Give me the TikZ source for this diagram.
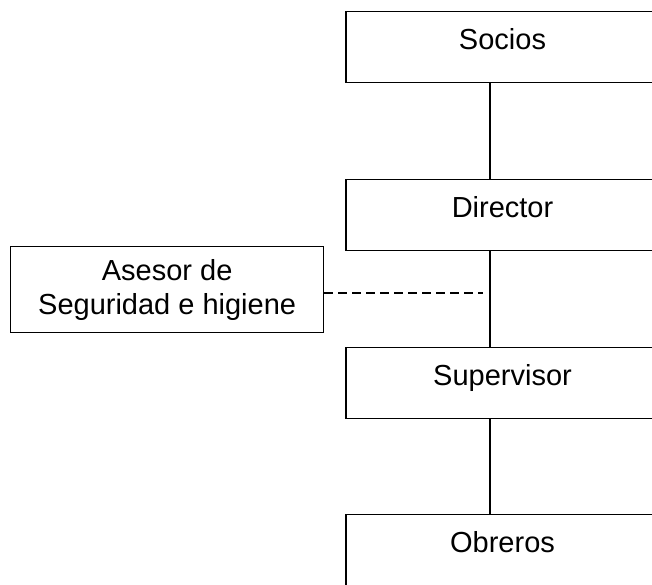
\documentclass[tikz,border=0pt]{standalone}
\usepackage{fontspec}
\setmainfont{Liberation Sans}
\usepackage{tikz}

\begin{document}
\begin{tikzpicture}[x=1pt,y=-1pt,
  cargo/.style={draw,line width=1.3pt,inner sep=0pt,minimum width=313pt,
    text height=38pt,text depth=33pt,font=\fontsize{29}{34}\selectfont},
  asesor/.style={draw,line width=1.3pt,inner sep=0pt,minimum width=313pt,
    minimum height=86pt,align=center,font=\fontsize{29}{34}\selectfont},
  enlace/.style={line width=1.3pt},
  aux/.style={line width=1.1pt,dash pattern=on 9pt off 5pt}]
\clip (0,0) rectangle (652,585);
% chain of command, boxes run off the right edge
\node[cargo,anchor=north] (socios)     at (502.5,11)  {Socios};
\node[cargo,anchor=north] (director)   at (502.5,179) {Director};
\node[cargo,anchor=north] (supervisor) at (502.5,347) {Supervisor};
\node[cargo,anchor=north] (obreros)    at (502.5,514) {Obreros};
% staff advisor to the left
\node[asesor,anchor=north west] (seg) at (10,246) {Asesor de\\Seguridad e higiene};
% the vertical line sits left of the box centres
\coordinate (eje) at (490,0);
\coordinate (fin) at (483,293);
\draw[enlace] (socios.south -| eje) -- (director.north -| eje);
\draw[enlace] (director.south -| eje) -- (supervisor.north -| eje);
\draw[enlace] (supervisor.south -| eje) -- (obreros.north -| eje);
\draw[aux] (seg.east |- fin) -- (fin);
\end{tikzpicture}
\end{document}
